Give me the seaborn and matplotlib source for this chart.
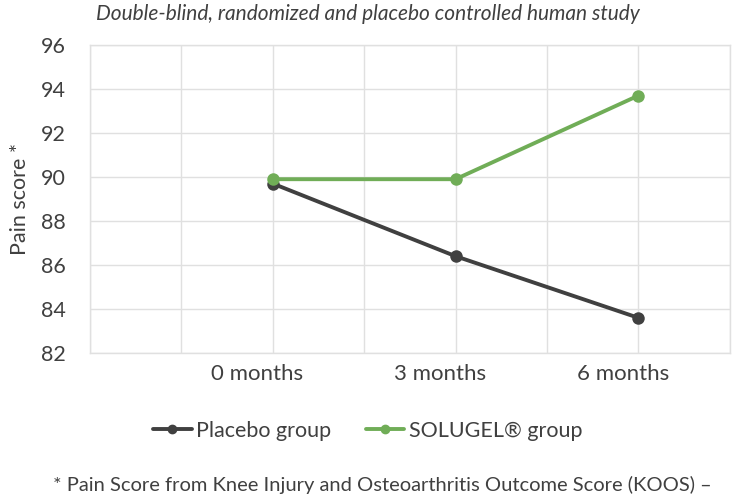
import pandas as pd
import seaborn as sns
import matplotlib.pyplot as plt

# values
months = ["0 months", "3 months", "6 months"]
placebo = [89.7, 86.4, 83.6]
solugel = [89.9, 89.9, 93.7]
groups = ["Placebo group", "SOLUGEL® group"]
colors = {"Placebo group": "#404040", "SOLUGEL® group": "#70AD57"}

# category slots: the axis has 7 slots, months sit on every 2nd one
pos = [2 * i + 2 for i in range(len(months))]

df = pd.DataFrame({
    "pos": pos * 2,
    "score": placebo + solugel,
    "group": [groups[0]] * 3 + [groups[1]] * 3,
})

sns.set_style("whitegrid")
plt.rcParams['font.family'] = ['Lato', 'DejaVu Sans']

fig = plt.figure(figsize=(7.5, 5), dpi=100)
ax = fig.add_axes([0.12, 0.294, 0.853, 0.616])

sns.lineplot(data=df, x="pos", y="score", hue="group", palette=colors,
             marker="o", markersize=9, markeredgewidth=0, linewidth=2.8,
             ax=ax, legend=False)

ax.set_xlim(0, 7)
ax.set_ylim(82, 96)
ax.set_xticks(range(8))
ax.set_xticklabels([""] * 8)
# month labels on their slots
for p, m in zip(pos, months):
    ax.text(p - 0.17, -0.035, m, transform=ax.get_xaxis_transform(),
            ha="center", va="top", fontsize=16, color="#404040")
ax.set_yticks(range(82, 97, 2))
ax.tick_params(axis="y", labelsize=15.5, labelcolor="#404040", pad=14)
ax.tick_params(axis="x", length=0)
ax.grid(color="#e0e0e0", linewidth=1)
for s in ax.spines.values():
    s.set_color("#e0e0e0")
    s.set_linewidth(1)
ax.set_xlabel("")
ax.set_ylabel("Pain score *", fontsize=15.5, color="#404040", labelpad=8)

# legend
handles = [plt.Line2D([], [], color=colors[g], linewidth=2.8, marker="o",
                      markersize=6) for g in groups]
fig.legend(handles, groups, loc="center", bbox_to_anchor=(0.49, 0.138),
           ncol=2, frameon=False, fontsize=15.5, handlelength=1.8,
           handletextpad=0.2, columnspacing=1.6, labelcolor="#404040")

fig.text(0.49, 0.973, "Double-blind, randomized and placebo controlled human study",
         ha="center", va="center", fontsize=15, style="italic", color="#404040")
fig.text(0.51, 0.03, "* Pain Score from Knee Injury and Osteoarthritis Outcome Score (KOOS) –",
         ha="center", va="center", fontsize=14.5, color="#404040")

fig.savefig("out.png", dpi=100)
